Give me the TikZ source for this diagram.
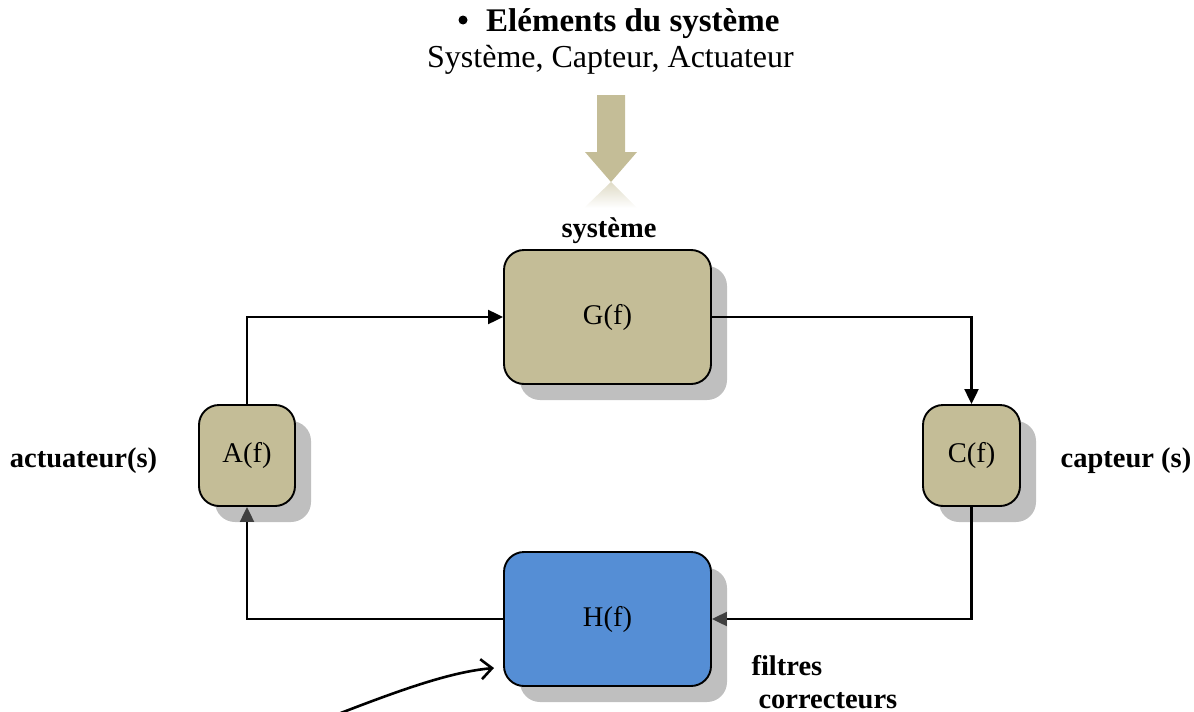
\documentclass[tikz,border=0pt]{standalone}
\usepackage{fontspec}
\setmainfont{Liberation Serif}
\usetikzlibrary{arrows.meta,shadows}
\definecolor{tan}{HTML}{C4BD97}
\definecolor{blockblue}{HTML}{558ED5}
\definecolor{shadowgray}{HTML}{BFBFBF}
\definecolor{darktip}{HTML}{404040}
\tikzset{
  block/.style={draw=black, line width=1.9pt, rounded corners=20pt, inner sep=0pt,
    font=\fontsize{28.5}{32}\selectfont,
    drop shadow={shadow xshift=16pt, shadow yshift=-16pt, fill=shadowgray, opacity=1}},
  wire/.style={line width=2.2pt, draw=black},
  blacktip/.style={-{Triangle[length=15pt,width=14pt]}},
  graytip/.style={-{Triangle[length=15pt,width=14pt,color=darktip]}},
  lbl/.style={font=\fontsize{28.5}{32}\selectfont\bfseries, anchor=base},
}
\begin{document}
\begin{tikzpicture}[x=1pt,y=-1pt]
\useasboundingbox (0,0) rectangle (1194,712);

% heading
\node[anchor=base west, font=\fontsize{33}{36}\selectfont, inner sep=0pt] (head) at (486,31)
  {\textbf{Eléments du système}};
\fill (463,20) circle (4.5pt);
\node[anchor=base, font=\fontsize{32}{36}\selectfont] (elems) at (610.5,67)
  {Système, Capteur, Actuateur};

% reflection under the big arrow
\shade[top color=tan!55, bottom color=white, shading angle=0]
  (611,182) -- (637,208) -- (584,208) -- cycle;
% big arrow
\fill[tan] (597,95) -- (625,95) -- (625,152) -- (637,152) -- (611,182)
  -- (585,152) -- (597,152) -- cycle;

% blocks
\node[block, fill=tan, minimum width=207pt, minimum height=134pt] (G) at (607.5,317) {G(f)};
\node[block, fill=tan, minimum width=96pt, minimum height=101pt] (A) at (247,455.5) {A(f)};
\node[block, fill=tan, minimum width=97pt, minimum height=101pt] (C) at (971.5,455.5) {C(f)};
\node[block, fill=blockblue, minimum width=207pt, minimum height=134pt] (H) at (607.5,619) {H(f)};

% labels
\node[lbl] (lsys) at (609,237) {système};
\node[lbl] (lact) at (83.5,467) {actuateur(s)};
\node[lbl] (lcap) at (1126,467) {capteur (s)};
\node[lbl, anchor=base west] (lfil) at (748,675) {filtres};
\node[lbl, anchor=base west] (lcor) at (755,708) {correcteurs};

% loop connectors
\draw[wire, blacktip] (A.north) |- (G.west);
\draw[wire, blacktip] (G.east) -| (C.north);
\draw[wire, graytip] (C.south) |- (H.east);
\draw[wire, graytip] (H.west) -| (A.south);

% pointer to the correcting filter
\coordinate (pstart) at (333,716);
\draw[line width=2.6pt, -{Straight Barb[length=11pt,width=20pt]}]
  (pstart) .. controls (400,690) and (450,672) .. (494,668);
\end{tikzpicture}
\end{document}
